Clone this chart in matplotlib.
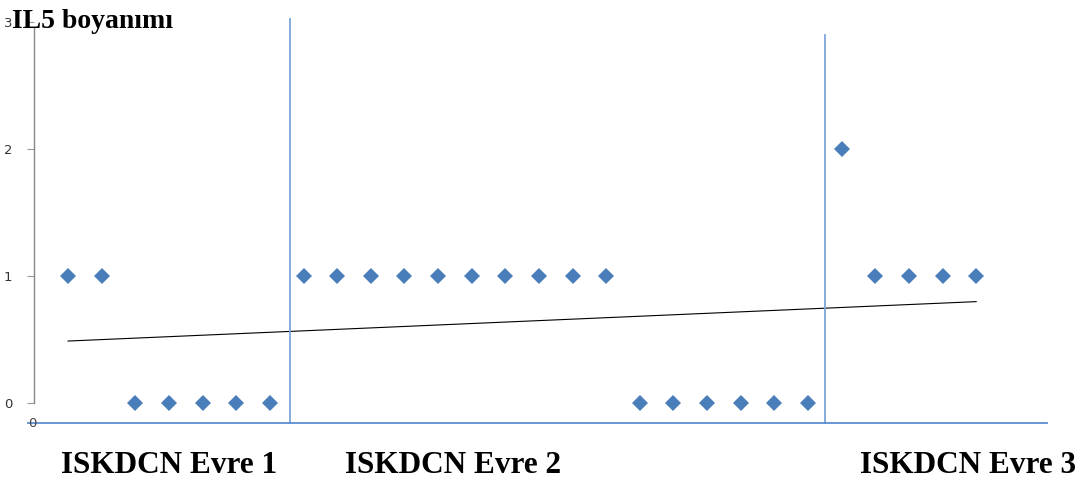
import numpy as np
import matplotlib.pyplot as plt

# IL5 staining per sample, grouped by stage
sample_no = np.arange(1, 29)
il5_score = [1, 1, 0, 0, 0, 0, 0,
             1, 1, 1, 1, 1, 1, 1, 1, 1, 1,
             0, 0, 0, 0, 0, 0,
             2, 1, 1, 1, 1]
stage_labels = ['ISKDCN Evre 1', 'ISKDCN Evre 2', 'ISKDCN Evre 3']
stage_breaks = [7.6, 23.5]
y_ticks = [0, 1, 2, 3]

fig = plt.figure(figsize=(10.9, 4.79), dpi=100)
ax = fig.add_axes([0.0316, 0.1587, 0.9257, 0.7954])

ax.plot(sample_no, il5_score, 'D', color='#4a7ebb', markersize=8,
        markeredgewidth=0, clip_on=False, zorder=3)

# linear trend line
k, b = np.polyfit(sample_no, il5_score, 1)
ax.plot(sample_no[[0, -1]], k * sample_no[[0, -1]] + b, color='black', lw=0.8)

ax.set_xlim(0, 30)
ax.set_ylim(0, 3)
ax.set_yticks(y_ticks)
ax.set_yticklabels([str(t) for t in y_ticks], fontsize=9.5, color='#333333')
ax.tick_params(axis='y', length=5, color='#999999', pad=11)
ax.set_xticks([])
for s in ['top', 'right', 'bottom']:
    ax.spines[s].set_visible(False)
ax.spines['left'].set_color('#888888')
ax.spines['left'].set_linewidth(1)
ax.spines['left'].set_bounds(0, 2.95)

# stage separators and base line
line_col = '#7ea6d9'
ax.plot([stage_breaks[0]] * 2, [-0.157, 3.02], color=line_col, lw=1.3, clip_on=False)
ax.plot([stage_breaks[1]] * 2, [-0.157, 2.90], color=line_col, lw=1.3, clip_on=False)
ax.plot([-0.2, 30.1], [-0.157, -0.157], color='#5b8fd0', lw=1.3, clip_on=False)
ax.text(-0.05, -0.165, '0', fontsize=9.5, color='#444444', ha='center', va='center')

ax.text(-0.67, 3.0, 'IL5 boyanımı', fontsize=20, fontweight='bold',
        family='Liberation Serif', va='center', ha='left', zorder=5)

label_x = [3.99, 12.45, 27.76]
for lx, lab in zip(label_x, stage_labels):
    ax.text(lx, -0.49, lab, fontsize=22.5, fontweight='bold', family='Liberation Serif',
            ha='center', va='center')

fig.savefig('out.png', dpi=100)
